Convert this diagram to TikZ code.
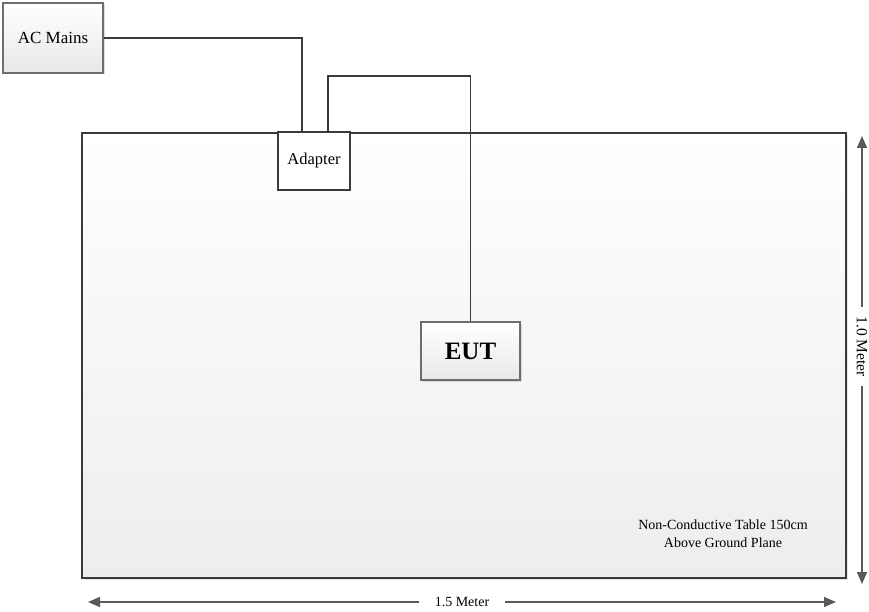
\documentclass[tikz,border=0pt]{standalone}
\usepackage{fontspec}
\setmainfont{Liberation Serif}
\usetikzlibrary{arrows.meta,shadows}
\definecolor{linegray}{HTML}{3A3A3A}
\definecolor{boxgray}{HTML}{6E6E6E}
\definecolor{dimgray}{HTML}{5A5A5A}
\begin{document}
\begin{tikzpicture}[x=1pt, y=-1pt,
    box/.style={draw=boxgray, line width=1.8pt, top color=white, bottom color=black!9,
      drop shadow={shadow xshift=1.5pt, shadow yshift=-1.5pt, opacity=.25}},
    plain/.style={draw=linegray, line width=1.6pt, fill=white},
    wire/.style={draw=linegray, line width=1.6pt},
    dim/.style={draw=dimgray, line width=1.4pt, {Triangle[length=12pt,width=10pt]}-{Triangle[length=12pt,width=10pt]}}]
  \useasboundingbox (0,0) rectangle (869,612);

  % テーブル
  \node[draw=linegray, line width=2.4pt, top color=white, bottom color=black!7,
    drop shadow={shadow xshift=2pt, shadow yshift=-2pt, opacity=.2},
    minimum width=764pt, minimum height=445pt, inner sep=0pt] (table) at (464,355.5) {};
  \node[font=\fontsize{14}{18}\selectfont, align=center, inner sep=0pt] (note) at (723,534)
    {Non-Conductive Table 150cm\\Above Ground Plane};

  % ボックス
  \node[box, minimum width=100pt, minimum height=70pt, inner sep=0pt,
    font=\fontsize{17}{19}\selectfont] (ac) at (53,38) {AC Mains};
  \node[plain, minimum width=72pt, minimum height=58pt, inner sep=0pt,
    font=\fontsize{16.5}{18}\selectfont] (adapter) at (314,161) {Adapter};
  \node[box, minimum width=99pt, minimum height=58pt, inner sep=0pt,
    font=\fontsize{25}{27}\selectfont\bfseries] (eut) at (470.5,351) {EUT};

  % 配線
  \draw[wire] (ac.east) -| ([xshift=-12pt]adapter.north);
  \coordinate (bend) at (470.5,76);
  \draw[wire] ([xshift=14pt]adapter.north) |- (bend) -- (eut.north);

  % 寸法
  \coordinate (hl) at (88,602);
  \coordinate (hr) at (836,602);
  \draw[dim] (hl) -- (hr) node[midway, fill=white, inner xsep=16pt, inner ysep=1pt,
    font=\fontsize{14}{15}\selectfont] (width) {1.5 Meter};
  \coordinate (vt) at (862,136);
  \coordinate (vb) at (862,584);
  \draw[dim] (vt) -- (vb) node[pos=.47, fill=white, inner xsep=9pt, inner ysep=1pt, rotate=-90,
    font=\fontsize{15.5}{17}\selectfont] (height) {1.0 Meter};
\end{tikzpicture}
\end{document}
